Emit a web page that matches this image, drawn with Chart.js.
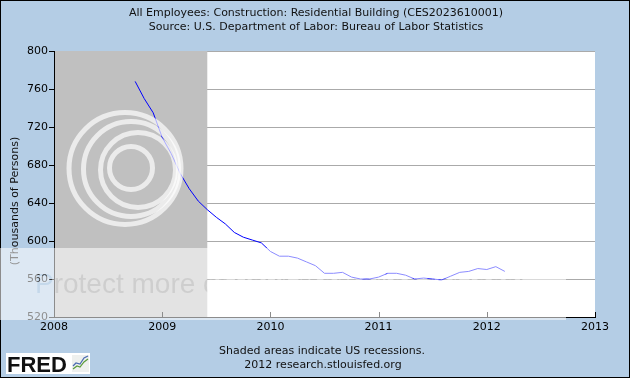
<!DOCTYPE html>
<html>
<head>
<meta charset="utf-8">
<script src="https://cdn.jsdelivr.net/npm/chart.js@4/dist/chart.umd.min.js"></script>
<style>
  html, body { margin: 0; padding: 0; background: #b4cde5; }
  #wrap { width: 630px; height: 378px; }
</style>
</head>
<body>
<div id="wrap"><canvas id="chart" width="630" height="378"></canvas></div>
<script>
// monthly values, thousands of persons
const months = [
  '2008-10', '2008-11', '2008-12',
  '2009-01', '2009-02', '2009-03', '2009-04', '2009-05', '2009-06',
  '2009-07', '2009-08', '2009-09', '2009-10', '2009-11', '2009-12',
  '2010-01', '2010-02', '2010-03', '2010-04', '2010-05', '2010-06',
  '2010-07', '2010-08', '2010-09', '2010-10', '2010-11', '2010-12',
  '2011-01', '2011-02', '2011-03', '2011-04', '2011-05', '2011-06',
  '2011-07', '2011-08', '2011-09', '2011-10', '2011-11', '2011-12',
  '2012-01', '2012-02', '2012-03'
];
const employees = [
  768, 750, 735,
  709, 692, 671, 655, 642, 633,
  625, 618, 609, 604, 601, 598,
  589, 584, 584, 582, 578, 574,
  566, 566, 567, 562, 560, 560,
  562, 566, 566, 564, 560, 561,
  560, 559, 563, 567, 568, 571,
  570, 573, 568
];
const yearTicks = [2008, 2009, 2010, 2011, 2012, 2013];
const valueTicks = [520, 560, 600, 640, 680, 720, 760, 800];
const recession = ['2007-12', '2009-06'];

const titleLines = [
  'All Employees: Construction: Residential Building (CES2023610001)',
  'Source: U.S. Department of Labor: Bureau of Labor Statistics'
];
const footerLines = [
  'Shaded areas indicate US recessions.',
  '2012 research.stlouisfed.org'
];

function toYear(m) {
  const [y, mo] = m.split('-').map(Number);
  return y + (mo - 1) / 12;
}

const points = months.map((m, i) => ({ x: toYear(m), y: employees[i] }));

const FONT = '"DejaVu Sans", sans-serif';
Chart.defaults.font.family = FONT;
Chart.defaults.font.size = 11;
Chart.defaults.color = '#000';

const framePlugin = {
  id: 'frame',
  beforeDraw(chart) {
    const { ctx, chartArea: a } = chart;
    ctx.save();
    ctx.fillStyle = '#b4cde5';
    ctx.fillRect(0, 0, chart.width, chart.height);
    ctx.fillStyle = '#fff';
    ctx.fillRect(a.left, a.top, a.right - a.left, a.bottom - a.top);
    ctx.restore();
  },
  beforeDatasetsDraw(chart) {
    const { ctx, chartArea: a, scales: { x } } = chart;
    const x0 = Math.max(x.getPixelForValue(toYear(recession[0])), a.left + 1);
    const x1 = x.getPixelForValue(toYear(recession[1]));
    ctx.save();
    ctx.fillStyle = '#c0c0c0';
    ctx.fillRect(x0, a.top, x1 - x0, a.bottom - a.top);
    ctx.restore();
  },
  afterDatasetsDraw(chart) {
    // x ticks point into the plot
    const { ctx, chartArea: a, scales: { x } } = chart;
    ctx.save();
    ctx.strokeStyle = '#000';
    ctx.lineWidth = 1;
    x.ticks.forEach(t => {
      const px = Math.round(x.getPixelForValue(t.value)) + 0.5;
      ctx.beginPath();
      ctx.moveTo(px, a.bottom);
      ctx.lineTo(px, a.bottom - 5);
      ctx.stroke();
    });
    ctx.restore();
  },
  afterDraw(chart) {
    const { ctx } = chart;
    ctx.save();
    ctx.fillStyle = '#111';
    ctx.font = '11px ' + FONT;
    ctx.textAlign = 'center';
    ctx.textBaseline = 'middle';
    ctx.fillText(titleLines[0], 316, 13);
    ctx.fillText(titleLines[1], 316, 27);
    ctx.fillText(footerLines[0], 322, 351);
    ctx.fillText(footerLines[1], 323, 365);

    // y axis title
    ctx.save();
    ctx.translate(15, 201);
    ctx.rotate(-Math.PI / 2);
    ctx.fillText('(Thousands of Persons)', 0, 0);
    ctx.restore();

    // FRED logo
    ctx.fillStyle = '#fff';
    ctx.fillRect(6, 353, 84, 21);
    ctx.fillStyle = '#111';
    ctx.font = 'bold 22px "Liberation Sans", Arial, sans-serif';
    ctx.textAlign = 'left';
    ctx.textBaseline = 'alphabetic';
    ctx.fillText('FRED', 7, 372);
    ctx.fillStyle = '#eef0ee';
    ctx.fillRect(72, 355, 17, 17);
    ctx.lineWidth = 1.2;
    ctx.strokeStyle = '#5a9a3a';
    ctx.beginPath();
    ctx.moveTo(73, 369); ctx.lineTo(77, 366); ctx.lineTo(80, 367); ctx.lineTo(84, 362); ctx.lineTo(88, 359);
    ctx.stroke();
    ctx.strokeStyle = '#4a6ab0';
    ctx.beginPath();
    ctx.moveTo(73, 366); ctx.lineTo(76, 363); ctx.lineTo(80, 364); ctx.lineTo(84, 358); ctx.lineTo(88, 356);
    ctx.stroke();

    // outer border
    ctx.strokeStyle = '#000';
    ctx.lineWidth = 1;
    ctx.strokeRect(0.5, 0.5, chart.width - 1, chart.height - 1);
    ctx.restore();

    // photo-host watermark: whitening overlay with cut-out text and rings
    const off = document.createElement('canvas');
    off.width = chart.width;
    off.height = chart.height;
    const o = off.getContext('2d');
    o.fillStyle = 'rgba(255,255,255,0.55)';
    o.fillRect(0, 248, 566, 72);
    o.strokeStyle = 'rgba(255,255,255,0.68)';
    o.lineWidth = 5;
    [[125, 168.5, 56], [131, 169, 47.5], [138, 170, 37.5], [131, 168, 21.5]].forEach(([cx, cy, r]) => {
      o.beginPath();
      o.arc(cx, cy, r, 0, Math.PI * 2);
      o.stroke();
    });
    o.globalCompositeOperation = 'destination-out';
    o.fillStyle = 'rgba(0,0,0,0.6)';
    o.font = '28px "Liberation Sans", Arial, sans-serif';
    o.fillText('Protect more of your memories for less!', 35, 293);
    ctx.drawImage(off, 0, 0);
  }
};

new Chart(document.getElementById('chart'), {
  type: 'line',
  data: {
    datasets: [{
      data: points,
      borderColor: '#0000ff',
      borderWidth: 1,
      pointRadius: 0,
      tension: 0,
      fill: false
    }]
  },
  options: {
    responsive: false,
    animation: false,
    devicePixelRatio: 1,
    layout: { padding: { top: 51, right: 35, left: 0, bottom: 0 } },
    plugins: { legend: { display: false }, tooltip: { enabled: false } },
    scales: {
      x: {
        type: 'linear',
        min: yearTicks[0],
        max: yearTicks[yearTicks.length - 1],
        afterBuildTicks: s => { s.ticks = yearTicks.map(v => ({ value: v })); },
        afterFit: s => { s.height = 61; },
        grid: { display: true, drawOnChartArea: false, drawTicks: false },
        border: { color: '#000', width: 1 },
        ticks: { padding: 4, color: '#000', callback: v => String(v), maxRotation: 0 }
      },
      y: {
        min: valueTicks[0],
        max: valueTicks[valueTicks.length - 1],
        afterBuildTicks: s => { s.ticks = valueTicks.map(v => ({ value: v })); },
        afterFit: s => { s.width = 54; },
        grid: { color: '#aaaaaa', drawTicks: true, tickLength: 5, tickColor: '#000' },
        border: { color: '#000', width: 1 },
        ticks: { padding: 1, color: '#000', callback: v => String(v) }
      }
    }
  },
  plugins: [framePlugin]
});
</script>
</body>
</html>
